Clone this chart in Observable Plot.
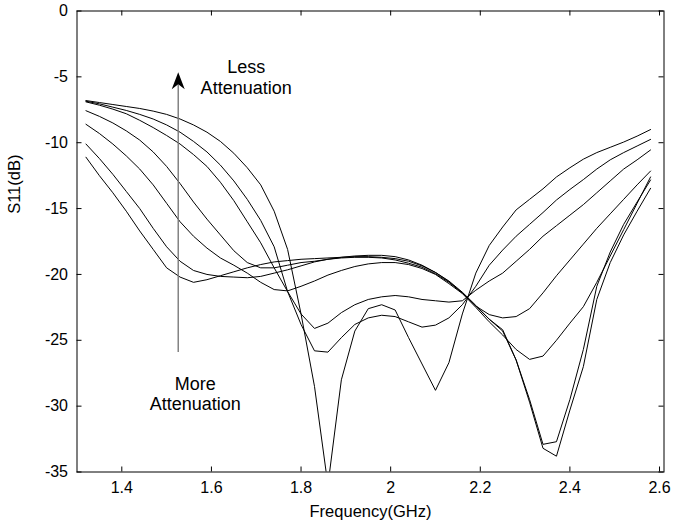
<!DOCTYPE html>
<html><head><meta charset="utf-8">
<script src="https://cdn.jsdelivr.net/npm/d3@7"></script>
<script src="https://cdn.jsdelivr.net/npm/@observablehq/plot@0.6"></script>
<style>body{margin:0;background:#fff;}</style>
</head><body><div id="chart"></div>
<script>
// Frequency grid (GHz)
const freq = [1.32,1.35,1.38,1.41,1.44,1.47,1.50,1.53,1.56,1.59,
  1.62,1.65,1.68,1.71,1.74,1.77,1.80,1.83,1.86,1.89,
  1.92,1.95,1.98,2.01,2.04,2.07,2.10,2.13,2.16,2.19,
  2.22,2.25,2.28,2.31,2.34,2.37,2.40,2.43,2.46,2.49,
  2.52,2.55,2.58];
// S11 (dB) for each attenuation setting (less -> more attenuation)
const curve0 = [-6.8,-6.95,-7.1,-7.25,-7.4,-7.6,-7.85,-8.2,-8.65,-9.2,
  -9.9,-10.8,-11.9,-13.2,-15.2,-18.1,-23.0,-28.5,-36.0,-28.0,
  -24.3,-22.6,-22.3,-22.7,-24.8,-26.8,-28.8,-26.7,-23.0,-19.9,
  -17.8,-16.4,-15.1,-14.3,-13.5,-12.6,-11.9,-11.25,-10.75,-10.35,
  -9.95,-9.5,-9.0];
const curve1 = [-6.85,-7.05,-7.3,-7.55,-7.85,-8.2,-8.65,-9.2,-9.9,-10.7,
  -11.7,-12.9,-14.3,-15.9,-17.9,-21.3,-23.8,-25.8,-25.9,-24.8,
  -23.8,-23.3,-23.1,-23.2,-23.6,-24.0,-23.85,-23.3,-22.3,-20.9,
  -19.3,-18.15,-17.1,-16.2,-15.3,-14.35,-13.55,-12.8,-12.0,-11.3,
  -10.75,-10.25,-9.75];
const curve2 = [-6.9,-7.15,-7.45,-7.8,-8.3,-8.85,-9.45,-10.1,-10.9,-11.8,
  -13.0,-14.4,-16.0,-17.6,-19.5,-21.3,-23.0,-24.1,-23.7,-22.9,
  -22.3,-21.9,-21.7,-21.6,-21.7,-21.9,-22.0,-22.1,-22.0,-21.2,
  -20.5,-19.9,-19.0,-18.1,-17.1,-16.3,-15.5,-14.7,-13.8,-12.9,
  -12.0,-11.3,-10.55];
const curve3 = [-7.57,-8.0,-8.5,-9.1,-9.8,-10.7,-11.8,-13.1,-14.5,-15.8,
  -17.0,-18.2,-19.1,-19.5,-19.5,-19.3,-19.1,-19.0,-18.85,-18.75,
  -18.7,-18.7,-18.75,-18.9,-19.15,-19.45,-19.95,-20.6,-21.4,-22.4,
  -23.05,-23.3,-23.2,-22.6,-21.4,-20.1,-18.9,-17.7,-16.5,-15.4,
  -14.3,-13.2,-12.15];
const curve4 = [-8.6,-9.3,-10.1,-11.0,-12.0,-13.2,-14.6,-16.0,-17.1,-18.0,
  -18.75,-19.3,-19.9,-20.6,-21.15,-21.25,-20.9,-20.5,-20.05,-19.7,
  -19.4,-19.2,-19.1,-19.1,-19.25,-19.55,-20.0,-20.7,-21.45,-22.5,
  -23.6,-24.6,-25.7,-26.45,-26.2,-25.0,-23.7,-22.45,-20.6,-18.6,
  -16.6,-14.6,-12.6];
const curve5 = [-10.1,-11.2,-12.4,-13.7,-15.0,-16.5,-17.9,-19.0,-19.7,-20.0,
  -20.15,-20.2,-20.25,-20.15,-19.9,-19.65,-19.35,-19.05,-18.85,-18.7,
  -18.6,-18.55,-18.55,-18.65,-18.9,-19.3,-19.85,-20.5,-21.35,-22.35,
  -23.4,-24.3,-26.5,-29.5,-32.9,-32.7,-29.5,-25.7,-20.9,-18.3,
  -16.2,-14.5,-12.83];
const curve6 = [-11.1,-12.5,-13.8,-15.2,-16.7,-18.1,-19.5,-20.2,-20.6,-20.4,
  -20.1,-19.8,-19.5,-19.25,-19.05,-18.95,-18.85,-18.8,-18.75,-18.7,
  -18.65,-18.65,-18.7,-18.8,-19.0,-19.35,-19.85,-20.55,-21.4,-22.4,
  -23.4,-24.2,-26.5,-29.7,-33.2,-33.8,-30.3,-27.0,-21.9,-19.1,
  -17.0,-15.2,-13.46];

const xTicks = [1.4, 1.6, 1.8, 2, 2.2, 2.4, 2.6];
const yTicks = [0, -5, -10, -15, -20, -25, -30, -35];
const xLabel = "Frequency(GHz)";
const yLabel = "S11(dB)";
const yLabelAt = -15.4;
const annotations = [
  {text: "Less", freq: 1.6775, s11: -4.67},
  {text: "Attenuation", freq: 1.6775, s11: -6.29},
  {text: "More", freq: 1.5638, s11: -28.81},
  {text: "Attenuation", freq: 1.5638, s11: -30.33}
];
const arrowSpec = [{freq: 1.5259, from: -25.93, to: -5.6, tip: -5.33}];

const curves = [curve0, curve1, curve2, curve3, curve4, curve5, curve6];
const rows = curves.flatMap((c, k) => c.map((v, i) => ({freq: freq[i], s11: v, curve: k})));

const W = 698, H = 525, mL = 76.5, mR = 34.5, mT = 10.5, mB = 53.5;
const xDom = [1.30, 2.61], yDom = [-35, 0];
const kx = (xDom[1] - xDom[0]) / (W - mL - mR);
const ky = (yDom[1] - yDom[0]) / (H - mT - mB);
const tl = 5;

const arrowHead = {
  draw(ctx) {
    ctx.moveTo(0, -9); ctx.lineTo(6.5, 8); ctx.lineTo(0, 3); ctx.lineTo(-6.5, 8); ctx.closePath();
  }
};

const chart = Plot.plot({
  width: W, height: H,
  marginLeft: mL, marginRight: mR, marginTop: mT, marginBottom: mB,
  style: {fontFamily: "'Liberation Sans', Arial, Helvetica, sans-serif", fontSize: "16px", background: "white", color: "black"},
  x: {domain: xDom, ticks: xTicks, tickFormat: d => String(d), tickSize: 0, tickPadding: 10, label: null},
  y: {domain: yDom, ticks: yTicks, tickFormat: d => String(d), tickSize: 0, tickPadding: 9, label: null},
  marks: [
    Plot.ruleX(xTicks, {x: d => d, y1: yDom[0], y2: yDom[0] + tl * ky, stroke: "black", strokeWidth: 1}),
    Plot.ruleX(xTicks, {x: d => d, y1: yDom[1], y2: yDom[1] - tl * ky, stroke: "black", strokeWidth: 1}),
    Plot.ruleY(yTicks, {y: d => d, x1: xDom[0], x2: xDom[0] + tl * kx, stroke: "black", strokeWidth: 1}),
    Plot.ruleY(yTicks, {y: d => d, x1: xDom[1], x2: xDom[1] - tl * kx, stroke: "black", strokeWidth: 1}),
    Plot.line(rows, {x: "freq", y: "s11", z: "curve", stroke: "black", strokeWidth: 1, clip: true}),
    Plot.ruleX(arrowSpec, {x: "freq", y1: "from", y2: "to", stroke: "#7a7a7a", strokeWidth: 1.4}),
    Plot.dot(arrowSpec, {x: "freq", y: "tip", symbol: arrowHead, fill: "black", stroke: "none", r: 5}),
    Plot.text(annotations, {x: "freq", y: "s11", text: "text", fontSize: 18, lineAnchor: "bottom", textAnchor: "middle", fill: "black"}),
    Plot.text([xLabel], {text: d => d, frameAnchor: "bottom", dy: 44.5, lineAnchor: "bottom", fontSize: 16.5, fill: "black"}),
    Plot.text([yLabel], {text: d => d, y: () => yLabelAt, frameAnchor: "left", dx: -62, rotate: -90, fontSize: 16.5, fill: "black"}),
    Plot.frame({stroke: "black", strokeWidth: 1})
  ]
});
document.getElementById("chart").appendChild(chart);
</script>
</body></html>
